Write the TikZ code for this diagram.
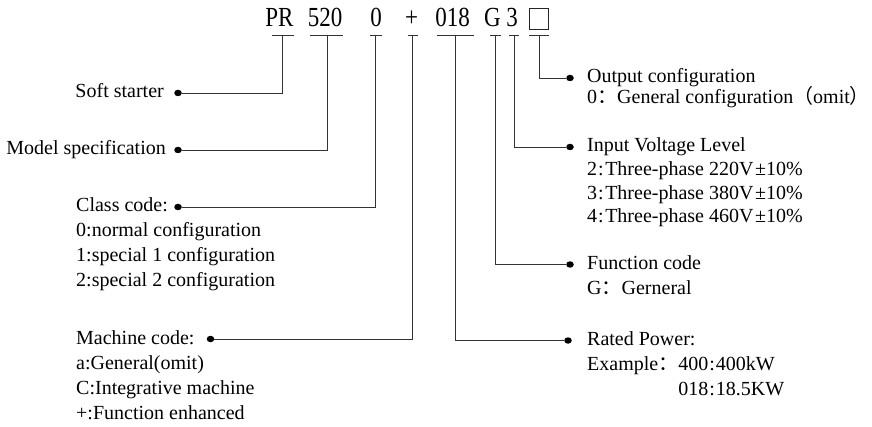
\documentclass[tikz,border=0pt]{standalone}
\usepackage{fontspec}
\usepackage{graphicx}
\usetikzlibrary{shapes.geometric}
\setmainfont{Liberation Serif}
\newfontfamily\cjk{Noto Sans CJK SC}
\newcommand\fwc{{\cjk ：}}
\newcommand\fwl{{\cjk （}}
\newcommand\fwr{{\cjk ）}}
\newcommand\tallcode[1]{\scalebox{1}[1.2]{#1}}
\begin{document}
\begin{tikzpicture}[x=1pt,y=-1pt,
  wire/.style={draw=black!80, line width=0.8pt},
  code/.style={inner sep=0pt, anchor=base, font=\fontsize{23}{27}\selectfont},
  dotnode/.style={ellipse, fill=black, inner sep=0pt, minimum width=7.5pt, minimum height=6.5pt},
  lblL/.style={inner sep=0pt, anchor=base east, font=\fontsize{20}{24}\selectfont},
  lblR/.style={inner sep=0pt, anchor=base west, font=\fontsize{20}{24}\selectfont}]
\useasboundingbox (0,0) rectangle (872,427);

% ---- code string ----
\node[code] (cPR)   at (279.5,26.7) {\tallcode{PR}};
\node[code] (c520)  at (325,26.7)   {\tallcode{520}};
\node[code] (c0)    at (376,26.7)   {\tallcode{0}};
\node[code] (cPlus) at (411.5,26.7) {\tallcode{+}};
\node[code] (c018)  at (452.5,26.7) {\tallcode{018}};
\node[code] (cG)    at (492.5,26.7) {\tallcode{G}};
\node[code] (c3)    at (512,26.7)   {\tallcode{3}};
\node[draw=black!85, line width=0.8pt, minimum width=19pt, minimum height=21pt, inner sep=0pt] (cBox) at (539,19.2) {};

% ---- tick points ----
\coordinate (tPR)   at (282.5,35);
\coordinate (t520)  at (327,35);
\coordinate (t0)    at (375.7,35);
\coordinate (tPlus) at (412.5,35);
\coordinate (t018)  at (455,35);
\coordinate (tG)    at (495.5,35);
\coordinate (t3)    at (514,35);
\coordinate (tBox)  at (539,35);

% bars
\draw[wire] ([xshift=-11pt]tPR)   -- ([xshift=11pt]tPR);
\draw[wire] ([xshift=-17pt]t520)  -- ([xshift=16pt]t520);
\draw[wire] ([xshift=-6pt]t0)     -- ([xshift=6pt]t0);
\draw[wire] ([xshift=-5pt]tPlus)  -- ([xshift=5pt]tPlus);
\draw[wire] ([xshift=-18.5pt]t018) -- ([xshift=18.5pt]t018);
\draw[wire] ([xshift=-5.5pt]tG)   -- ([xshift=5.5pt]tG);
\draw[wire] ([xshift=-5pt]t3)     -- ([xshift=5pt]t3);
\draw[wire] ([xshift=-10pt]tBox)  -- ([xshift=10pt]tBox);

% ---- dots ----
\node[dotnode] (dSoft)  at (178,93)  {};
\node[dotnode] (dModel) at (178,150) {};
\node[dotnode] (dClass) at (178,207) {};
\node[dotnode] (dMach)  at (210.5,339) {};
\node[dotnode] (dOut)   at (570,78)  {};
\node[dotnode] (dIn)    at (570,147) {};
\node[dotnode] (dFun)   at (570,264.5) {};
\node[dotnode] (dRate)  at (568,340.5) {};

% ---- connectors ----
\draw[wire] (tPR)   |- (dSoft);
\draw[wire] (t520)  |- (dModel);
\draw[wire] (t0)    |- (dClass);
\draw[wire] (tPlus) |- (dMach);
\draw[wire] (tBox)  |- (dOut);
\draw[wire] (t3)    |- (dIn);
\draw[wire] (tG)    |- (dFun);
\draw[wire] (t018)  |- (dRate);

% ---- left labels ----
\node[lblL] (lSoft)  at (164,98)  {Soft starter};
\node[lblL] (lModel) at (166,155) {Model specification};
\node[lblR] (lClass)  at (76,212) {Class code:};
\node[lblR] (lClass0) at (76,237) {0:normal configuration};
\node[lblR] (lClass1) at (76,262) {1:special 1 configuration};
\node[lblR] (lClass2) at (76,287) {2:special 2 configuration};
\node[lblR] (lMach)   at (76,344) {Machine code:};
\node[lblR] (lMachA)  at (76,369.5) {a:General(omit)};
\node[lblR] (lMachC)  at (76,394.5) {C:Integrative machine};
\node[lblR] (lMachP)  at (76,419.5) {+:Function enhanced};

% ---- right labels ----
\node[lblR] (rOut)   at (587,83)    {Output configuration};
\node[lblR] (rOut0)  at (587,104)   {0\fwc General configuration\fwl omit\fwr};
\node[lblR] (rIn)    at (587,152)   {Input Voltage Level};
\node[lblR] (rIn2)   at (587,175.7) {2\kern1pt:\kern1.5pt Three-phase 220V\kern1.5pt ±10\%};
\node[lblR] (rIn3)   at (587,199.4) {3\kern1pt:\kern1.5pt Three-phase 380V\kern1.5pt ±10\%};
\node[lblR] (rIn4)   at (587,223)   {4\kern1pt:\kern1.5pt Three-phase 460V\kern1.5pt ±10\%};
\node[lblR] (rFun)   at (587,269.5) {Function code};
\node[lblR] (rFunG)  at (587,294.5) {G\fwc Gerneral};
\node[lblR] (rRate)  at (587,345.5) {Rated Power:};
\node[lblR] (rRateE) at (587,370.5) {Example\fwc 400\kern1pt:\kern1pt 400kW};
\node[lblR] (rRate0) at (587,395.5) {\hphantom{Example\fwc}018\kern1pt:\kern1pt 18.5KW};
\end{tikzpicture}
\end{document}
